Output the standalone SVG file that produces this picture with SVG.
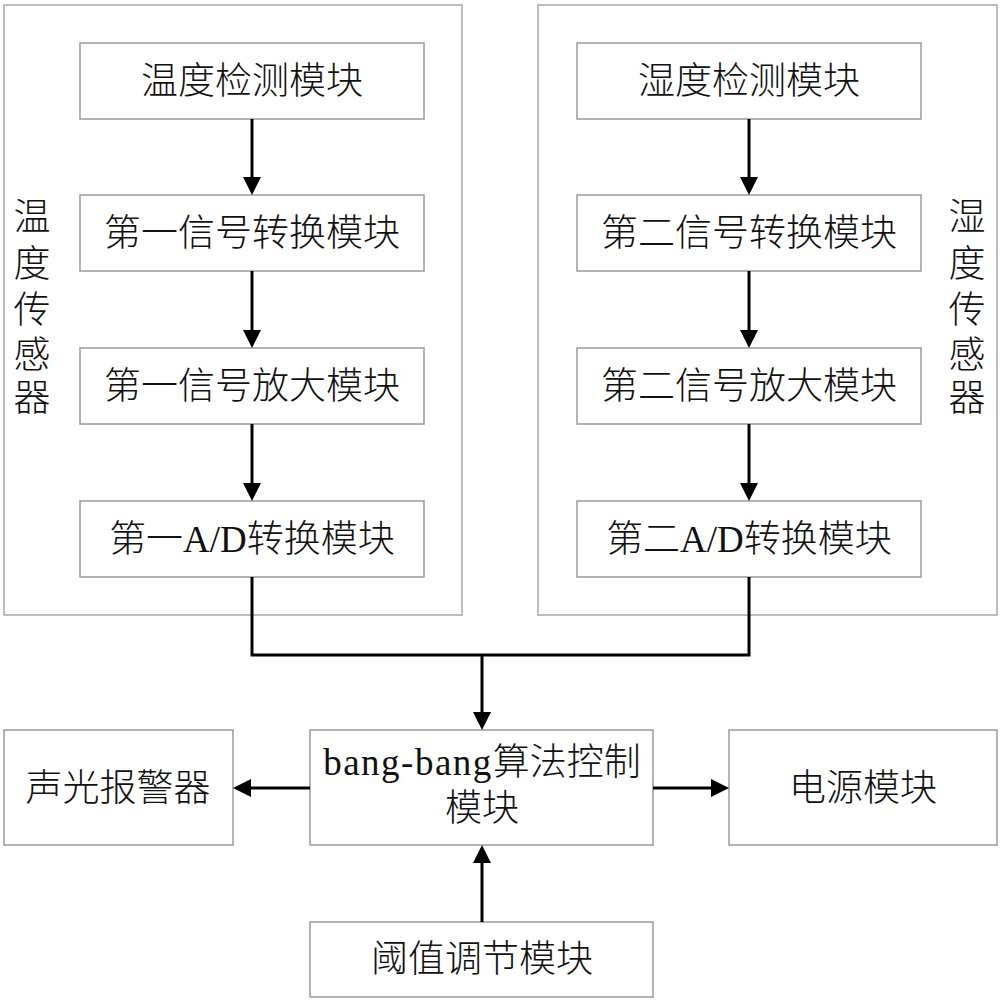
<svg xmlns="http://www.w3.org/2000/svg" width="1000" height="1000" viewBox="0 0 1000 1000">
<defs>
<style>
.box{fill:#fff;stroke:#9a9a9a;stroke-width:1.5}
.frame{fill:none;stroke:#a8a8a8;stroke-width:1.5}
.t{font-family:"Liberation Serif","Noto Sans CJK SC",serif;font-size:37px;font-weight:300;fill:#111;text-anchor:middle}
.conn{fill:none;stroke:#000;stroke-width:3}
</style>
<marker id="ah" markerUnits="userSpaceOnUse" markerWidth="18" markerHeight="18" refX="0" refY="9" orient="auto" viewBox="0 0 18 18">
<path d="M0,0 L18,9 L0,18 z" fill="#000"/>
</marker>
</defs>
<rect width="1000" height="1000" fill="#fff"/>
<g id="temp-sensor">
<rect class="frame" x="4" y="5" width="458" height="610"/>
<text class="t"><tspan x="32" y="230">温</tspan><tspan x="32" y="277">度</tspan><tspan x="32" y="323">传</tspan><tspan x="32" y="368">感</tspan><tspan x="32" y="411">器</tspan></text>
</g>
<g id="hum-sensor">
<rect class="frame" x="538" y="5" width="459" height="610"/>
<text class="t"><tspan x="967" y="230">湿</tspan><tspan x="967" y="277">度</tspan><tspan x="967" y="323">传</tspan><tspan x="967" y="368">感</tspan><tspan x="967" y="411">器</tspan></text>
</g>
<g id="n-temp-detect"><rect class="box" x="80" y="43" width="344" height="76"/><text class="t" x="252" y="94">温度检测模块</text></g>
<g id="n-sig1"><rect class="box" x="80" y="195" width="344" height="76"/><text class="t" x="252" y="246">第一信号转换模块</text></g>
<g id="n-amp1"><rect class="box" x="80" y="348" width="344" height="76"/><text class="t" x="252" y="399">第一信号放大模块</text></g>
<g id="n-ad1"><rect class="box" x="80" y="501" width="344" height="76"/><text class="t" x="252" y="552">第一A/D转换模块</text></g>
<g id="n-hum-detect"><rect class="box" x="577" y="43" width="344" height="76"/><text class="t" x="749" y="94">湿度检测模块</text></g>
<g id="n-sig2"><rect class="box" x="577" y="195" width="344" height="76"/><text class="t" x="749" y="246">第二信号转换模块</text></g>
<g id="n-amp2"><rect class="box" x="577" y="348" width="344" height="76"/><text class="t" x="749" y="399">第二信号放大模块</text></g>
<g id="n-ad2"><rect class="box" x="577" y="501" width="344" height="76"/><text class="t" x="749" y="552">第二A/D转换模块</text></g>
<g id="n-alarm"><rect class="box" x="4" y="730" width="229" height="115"/><text class="t" x="118" y="801">声光报警器</text></g>
<g id="n-ctrl"><rect class="box" x="310" y="730" width="343" height="115"/><text class="t"><tspan x="482" y="775"><tspan letter-spacing="1.5">bang-bang</tspan>算法控制</tspan><tspan x="482" y="821">模块</tspan></text></g>
<g id="n-power"><rect class="box" x="729" y="730" width="268" height="115"/><text class="t" x="863" y="801">电源模块</text></g>
<g id="n-threshold"><rect class="box" x="310" y="922" width="343" height="75"/><text class="t" x="482" y="972">阈值调节模块</text></g>
<g id="connectors">
<path class="conn" d="M252,119 V177" marker-end="url(#ah)"/>
<path class="conn" d="M252,271 V330" marker-end="url(#ah)"/>
<path class="conn" d="M252,424 V483" marker-end="url(#ah)"/>
<path class="conn" d="M749,119 V177" marker-end="url(#ah)"/>
<path class="conn" d="M749,271 V330" marker-end="url(#ah)"/>
<path class="conn" d="M749,424 V483" marker-end="url(#ah)"/>
<path class="conn" d="M252,577 V655 H749 V577"/>
<path class="conn" d="M482,655 V712" marker-end="url(#ah)"/>
<path class="conn" d="M310,788 H251" marker-end="url(#ah)"/>
<path class="conn" d="M653,788 H711" marker-end="url(#ah)"/>
<path class="conn" d="M482,922 V863" marker-end="url(#ah)"/>
</g>
</svg>
